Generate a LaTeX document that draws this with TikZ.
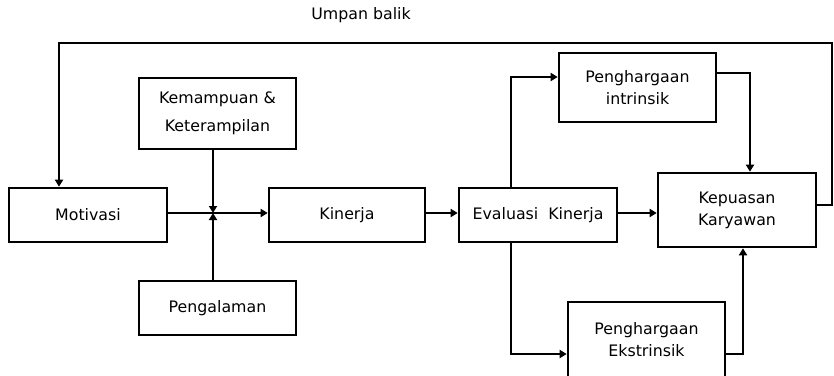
\documentclass[tikz,border=0pt]{standalone}
\usepackage{fontspec}
\setmainfont{DejaVu Sans}
\usetikzlibrary{arrows.meta,calc}
\begin{document}
\begin{tikzpicture}[x=1pt,y=-1pt,
  box/.style={draw,line width=2.6pt,rectangle,inner sep=0pt,align=center,
    font=\fontsize{15.8}{22}\selectfont},
  conn/.style={line width=2.6pt},
  arr/.style={conn,-{Triangle[length=7pt,width=8pt]}}]
\useasboundingbox (0,0) rectangle (834,375);
\node[box,minimum width=158pt,minimum height=54pt] (mot) at (88,215) {Motivasi};
\node[box,minimum width=157pt,minimum height=71pt,font=\fontsize{15.8}{28}\selectfont] (kem) at (217.5,113.5) {Kemampuan \&\\Keterampilan};
\node[box,minimum width=157pt,minimum height=54pt] (peng) at (217.5,308) {Pengalaman};
\node[box,minimum width=156pt,minimum height=54pt] (kin) at (347,215) {Kinerja};
\node[box,minimum width=158pt,minimum height=54pt] (eva) at (538,215) {Evaluasi\ \ Kinerja};
\node[box,minimum width=158pt,minimum height=74pt] (kep) at (737,210) {Kepuasan\\Karyawan};
\node[box,minimum width=157pt,minimum height=69pt] (intr) at (637.5,87.5) {Penghargaan\\intrinsik};
\node[box,minimum width=157pt,minimum height=76pt] (ekst) at (646.5,340) {Penghargaan\\Ekstrinsik};
\node[font=\fontsize{15.8}{18}\selectfont] (ub) at (361,15) {Umpan balik};
\coordinate (j) at (213,213);
\coordinate (fbr) at (832,205);
\coordinate (fbt) at (832,43);
\coordinate (fbl) at (59,43);
\coordinate (ev) at (511,215);
\coordinate (iup) at (511,77);
\coordinate (edn) at (511,354);
\coordinate (ir) at (750,73);
\coordinate (er) at (743,354);
% junction
\draw[arr] (kem.south -| j) -- (j);
\draw[arr] (peng.north -| j) -- (j);
\draw[arr] (mot.east |- j) -- (kin.west |- j);
\draw[arr] (kin.east |- j) -- (eva.west |- j);
\draw[arr] (eva.east |- j) -- (kep.west |- j);
% feedback
\draw[arr] (kep.east |- fbr) -- (fbr) -- (fbt) -- (fbl) -- (mot.north -| fbl);
% intrinsik
\draw[arr] (eva.north -| ev) -- (iup) -- (intr.west |- iup);
\draw[arr] (intr.east |- ir) -- (ir) -- (kep.north -| ir);
% ekstrinsik
\draw[arr] (eva.south -| ev) -- (edn) -- (ekst.west |- edn);
\draw[arr] (ekst.east |- er) -- (er) -- (kep.south -| er);
\end{tikzpicture}
\end{document}
